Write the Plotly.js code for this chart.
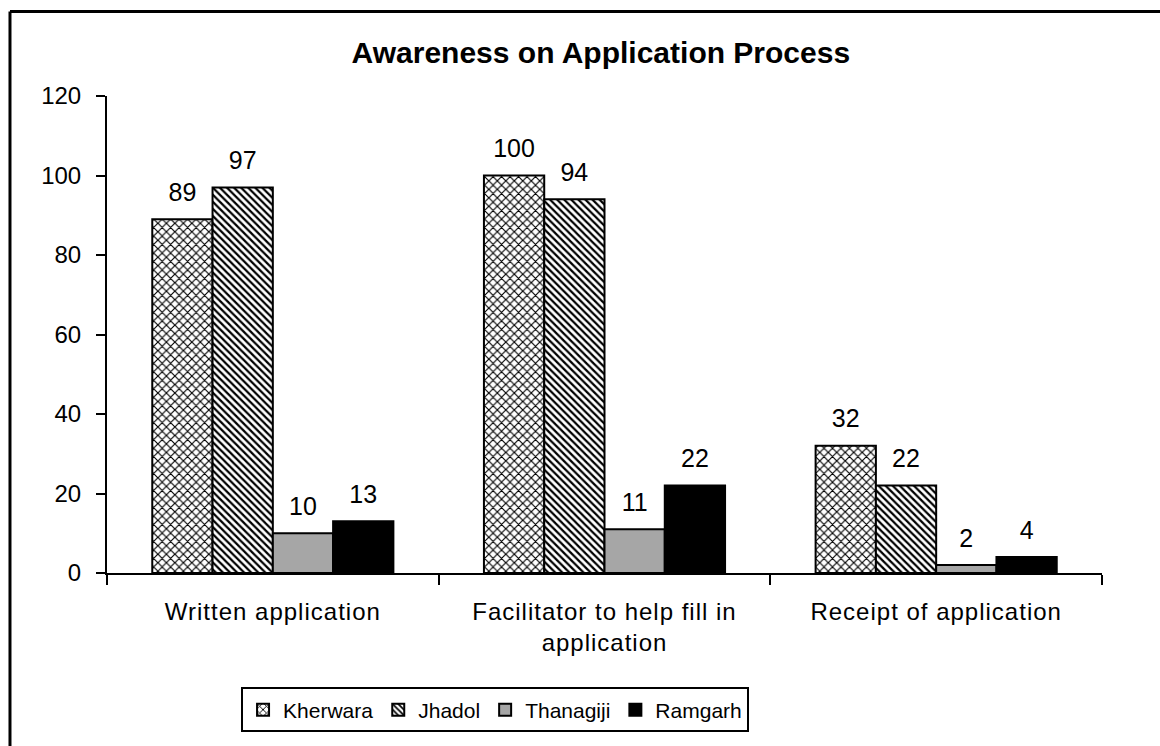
<!DOCTYPE html>
<html>
<head>
<meta charset="utf-8">
<script src="https://cdn.plot.ly/plotly-3.0.1.min.js"></script>
<style>
html,body{margin:0;padding:0;background:#fff;}
#chart{width:1160px;height:746px;}
#chart .xtick text {letter-spacing:1px;}
</style>
</head>
<body>
<div id="chart"></div>
<script>
const categories = ["Written application", "Facilitator to help fill in<br>application", "Receipt of application"];
const seriesNames = ["Kherwara", "Jhadol", "Thanagiji", "Ramgarh"];
const kherwara = [89, 100, 32];
const jhadol = [97, 94, 22];
const thanagiji = [10, 11, 2];
const ramgarh = [13, 22, 4];
const yTicks = [0, 20, 40, 60, 80, 100, 120];

const font = "Liberation Sans, Arial, sans-serif";
const line = {color: "#000", width: 2};
const markers = [
  {color: "#fff", pattern: {shape: "x", size: 6, solidity: 0.35, fgcolor: "#000", bgcolor: "#fff"}},
  {color: "#fff", pattern: {shape: "\\", size: 5, solidity: 0.45, fgcolor: "#000", bgcolor: "#fff"}},
  {color: "#a6a6a6"},
  {color: "#000"}
];
const values = [kherwara, jhadol, thanagiji, ramgarh];
const data = [];
values.forEach((vals, i) => {
  data.push({
    type: "bar", name: seriesNames[i], x: categories, y: vals,
    offsetgroup: seriesNames[i],
    marker: Object.assign({line: line}, markers[i]),
    hoverinfo: "skip"
  });
});
values.forEach((vals, i) => {
  data.push({
    type: "scatter", mode: "markers+text", x: categories, y: vals,
    offsetgroup: seriesNames[i], showlegend: false, cliponaxis: false,
    text: vals.map(String), textposition: "top center",
    textfont: {family: font, size: 25, color: "#000"},
    marker: {size: 18, opacity: 0},
    hoverinfo: "skip"
  });
});
const layout = {
  width: 1160, height: 746,
  margin: {l: 107, r: 58, t: 96, b: 173},
  paper_bgcolor: "#fff", plot_bgcolor: "#fff",
  title: {text: "<b>Awareness on Application Process</b>", x: 0.518, xanchor: "center", y: 0.930, yanchor: "middle",
          font: {family: font, size: 30, color: "#000"}},
  barmode: "group", bargap: 0.273, bargroupgap: 0,
  scattermode: "group", scattergap: 0.273,
  showlegend: true,
  legend: {orientation: "h", x: 0.39, xanchor: "center", y: -0.24, yanchor: "top",
           bordercolor: "#000", borderwidth: 2, font: {family: font, size: 21, color: "#000"},
           itemwidth: 30, tracegroupgap: 0},
  xaxis: {showline: true, linecolor: "#000", linewidth: 2, ticks: "outside", tickson: "boundaries",
          ticklen: 10, tickwidth: 2, tickcolor: "#000", showgrid: false, zeroline: false,
          ticklabelstandoff: 16,
          tickfont: {family: font, size: 24, color: "#000"}, fixedrange: true},
  yaxis: {range: [0, 120], tickvals: yTicks, ticktext: yTicks.map(String), showline: true, linecolor: "#000", linewidth: 2,
          ticks: "outside", ticklen: 9, tickwidth: 2, tickcolor: "#000", showgrid: false, zeroline: false,
          ticklabelstandoff: 10,
          tickfont: {family: font, size: 24, color: "#000"}, fixedrange: true},
  shapes: [
    {type: "line", xref: "paper", yref: "paper", x0: -0.0975, x1: 1.2, y0: 1.177, y1: 1.177, line: {color: "#000", width: 3}},
    {type: "line", xref: "paper", yref: "paper", x0: -0.0975, x1: -0.0975, y0: 1.177, y1: -0.5, line: {color: "#000", width: 3}}
  ]
};
Plotly.newPlot("chart", data, layout, {displayModeBar: false, staticPlot: true});
</script>
</body>
</html>
